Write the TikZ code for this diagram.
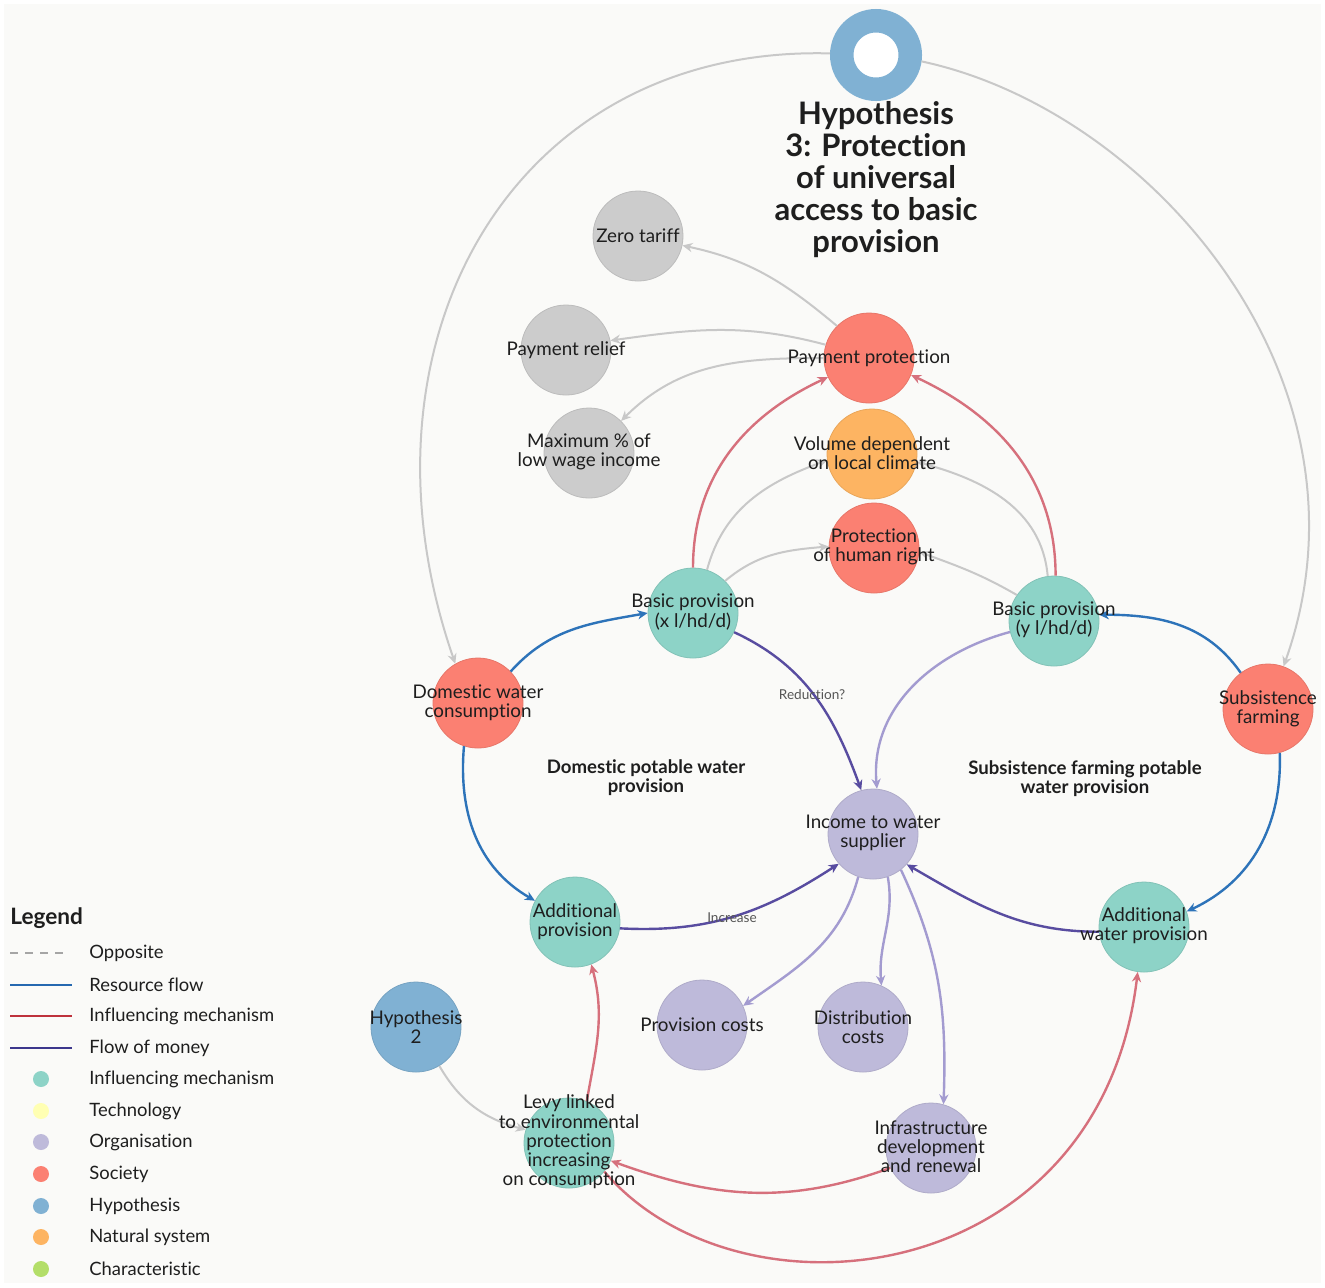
\documentclass[tikz,border=0pt]{standalone}
\usepackage{fontspec}
\setmainfont[Ligatures=NoCommon]{Lato}
\usetikzlibrary{arrows.meta}
\definecolor{bgc}{RGB}{250,250,248}
\definecolor{cteal}{RGB}{141,211,199}
\definecolor{cpurple}{RGB}{190,186,218}
\definecolor{cred}{RGB}{251,128,114}
\definecolor{cblue}{RGB}{128,177,211}
\definecolor{corange}{RGB}{253,180,98}
\definecolor{cyellow}{RGB}{255,255,179}
\definecolor{cgreen}{RGB}{179,222,105}
\definecolor{cgray}{RGB}{204,204,204}
\definecolor{egray}{RGB}{200,200,200}
\definecolor{eblue}{RGB}{45,115,185}
\definecolor{ered}{RGB}{214,112,124}
\definecolor{emoney}{RGB}{88,76,160}
\definecolor{elight}{RGB}{163,155,208}
\definecolor{lgray}{RGB}{165,165,165}
\definecolor{lblue}{RGB}{37,104,176}
\definecolor{lred}{RGB}{190,50,60}
\definecolor{lmoney}{RGB}{60,55,140}
\definecolor{txtc}{RGB}{30,30,30}
\tikzset{
  circ/.style={circle,minimum size=45pt,inner sep=0pt,fill=#1,draw=#1!92!black,line width=0.4pt},
  txt/.style={align=center,inner sep=0pt,text=txtc,font=\fontsize{9.4}{9.6}\selectfont},
  grp/.style={align=center,inner sep=0pt,text=txtc,font=\bfseries\fontsize{9.3}{9.6}\selectfont},
  elab/.style={inner sep=0pt,text={rgb,255:red,85;green,85;blue,85},font=\fontsize{6.8}{7}\selectfont},
  tip/.style={-{Stealth[length=5pt,width=4.6pt]}},
  ge/.style={draw=egray,line width=1pt,tip},
  be/.style={draw=eblue,line width=1.2pt,tip},
  re/.style={draw=ered,line width=1.2pt,tip},
  me/.style={draw=emoney,line width=1.2pt,tip},
  le/.style={draw=elight,line width=1.2pt,tip},
  legt/.style={anchor=west,inner sep=0pt,text=txtc,font=\fontsize{9.2}{10}\selectfont},
  legd/.style={circle,minimum size=8pt,inner sep=0pt,fill=#1}
}
\begin{document}
\begin{tikzpicture}[x=0.5pt,y=0.5pt]
\fill[white] (0,0) rectangle (1325,-1287);
\fill[bgc] (4,-4) rectangle (1321,-1283);
\useasboundingbox (0,0) rectangle (1325,-1287);

% circles
\node[circle,minimum size=34.25pt,inner sep=0pt,draw=cblue,line width=11.75pt,fill=white,outer sep=5.9pt] (h3) at (876,-55) {};
\node[circ=cgray] (zt) at (638,-236) {};
\node[circ=cgray] (pr) at (566,-350) {};
\node[circ=cgray] (mx) at (589,-453) {};
\node[circ=cred] (pp) at (869,-358) {};
\node[circ=corange] (vol) at (872,-454) {};
\node[circ=cred] (prh) at (874,-548) {};
\node[circ=cteal] (bx) at (693,-613) {};
\node[circ=cteal] (by) at (1054,-621) {};
\node[circ=cred] (dom) at (478,-703) {};
\node[circ=cred] (sub) at (1268,-709) {};
\node[circ=cpurple] (inc) at (873,-834) {};
\node[circ=cteal] (ap) at (575,-922) {};
\node[circ=cteal] (aw) at (1144,-927) {};
\node[circ=cpurple] (pc) at (702,-1025) {};
\node[circ=cpurple] (dc) at (863,-1027) {};
\node[circ=cblue] (h2) at (416,-1027) {};
\node[circ=cteal] (lv) at (569,-1143) {};
\node[circ=cpurple] (inf) at (931,-1148) {};

% edges
\draw[ge] (h3.178) .. controls (510,-45) and (345,-345) .. (dom.120);
\draw[ge] (h3.-8) .. controls (1150,-110) and (1385,-380) .. (sub.70);
\draw[ge] (pp.135) to[out=140,in=-12] (zt.-12);
\draw[ge] (pp.163) to[out=165,in=8] (pr.12);
\draw[ge] (pp.180) to[out=180,in=45] (mx.45);
\draw[ge] (bx.72) to[out=75,in=200] (vol.188);
\draw[ge] (by.98) to[out=95,in=-15] (vol.-10);
\draw[ge] (bx.45) to[out=40,in=185] (prh.178);
\draw[ge] (by.145) to[out=150,in=-20] (prh.-5);
\draw[re] (bx.90) to[out=90,in=205] (pp.205);
\draw[re] (by.88) to[out=90,in=-25] (pp.-22);
\draw[be] (dom.44) to[out=48,in=190] (bx.180);
\draw[be] (sub.127) to[out=125,in=0] (by.8);
\draw[be] (dom.252) to[out=265,in=150] (ap.152);
\draw[be] (sub.-75) to[out=-88,in=25] (aw.20);
\draw[me] (bx.-25) to[out=-25,in=110] (inc.105);
\draw[le] (by.194) to[out=195,in=95] (inc.85);
\draw[me] (ap.-8) to[out=-3,in=213] (inc.221);
\draw[me] (aw.186) to[out=180,in=-30] (inc.-42);
\draw[le] (inc.251) to[out=255,in=35] (pc.25);
\draw[le] (inc.-71) to[out=-80,in=95] (dc.66);
\draw[le] (inc.-52) to[out=-65,in=88] (inf.74);
\draw[ge] (h2.-59) to[out=-60,in=165] (lv.163);
\draw[re] (lv.67) to[out=80,in=-75] (ap.-69);
\draw[re] (inf.206) to[out=200,in=-20] (lv.-23);
\draw[re] (lv.-39) .. controls (740,-1330) and (1100,-1290) .. (aw.-98);

% texts
\node[align=center,inner sep=0pt,text=txtc,font=\bfseries\fontsize{15.5}{16}\selectfont] (h3t) at (876,-180) {Hypothesis\\3: Protection\\of universal\\access to basic\\provision};
\node[txt] (ztt) at (638,-236) {Zero tariff};
\node[txt] (prt) at (566,-350) {Payment relief};
\node[txt] (mxt) at (589,-452) {Maximum \% of\\low wage income};
\node[txt] (ppt) at (869,-358) {Payment protection};
\node[txt] (volt) at (872,-453) {Volume dependent\\on local climate};
\node[txt] (prht) at (874,-547) {Protection\\of human right};
\node[txt] (bxt) at (693,-612) {Basic provision\\(x l/hd/d)};
\node[txt] (byt) at (1054,-620) {Basic provision\\(y l/hd/d)};
\node[txt] (domt) at (478,-703) {Domestic water\\consumption};
\node[txt] (subt) at (1268,-709) {Subsistence\\farming};
\node[txt] (inct) at (873,-833) {Income to water\\supplier};
\node[txt] (apt) at (575,-922) {Additional\\provision};
\node[txt] (awt) at (1144,-926) {Additional\\water provision};
\node[txt] (pct) at (702,-1025) {Provision costs};
\node[txt] (dct) at (863,-1027) {Distribution\\costs};
\node[txt] (h2t) at (416,-1027) {Hypothesis\\2};
\node[txt] (lvt) at (569,-1142) {Levy linked\\to environmental\\protection\\increasing\\on consumption};
\node[txt] (inft) at (931,-1147) {Infrastructure\\development\\and renewal};
\node[grp] (g1) at (646,-778) {Domestic potable water\\provision};
\node[grp] (g2) at (1085,-779) {Subsistence farming potable\\water provision};
\node[elab] (l1) at (812,-695) {Reduction?};
\node[elab] (l2) at (732,-918) {Increase};

% legend
\node[anchor=west,inner sep=0pt,text=txtc,font=\bfseries\fontsize{11.3}{12}\selectfont] (leg) at (10,-918) {Legend};
\coordinate (la1) at (10,-953); \coordinate (lb1) at (68,-953);
\coordinate (la2) at (10,-985); \coordinate (lb2) at (72,-985);
\coordinate (la3) at (10,-1016); \coordinate (lb3) at (72,-1016);
\coordinate (la4) at (10,-1048); \coordinate (lb4) at (72,-1048);
\draw[lgray,line width=0.9pt,dash pattern=on 4pt off 3.5pt] (la1) -- (lb1);
\draw[lblue,line width=1pt] (la2) -- (lb2);
\draw[lred,line width=1pt] (la3) -- (lb3);
\draw[lmoney,line width=1pt] (la4) -- (lb4);
\node[legt] (t1) at (89,-953) {Opposite};
\node[legt] (t2) at (89,-985) {Resource flow};
\node[legt] (t3) at (89,-1016) {Influencing mechanism};
\node[legt] (t4) at (89,-1048) {Flow of money};
\node[legd=cteal] (d5) at (41,-1079) {};
\node[legd=cyellow] (d6) at (41,-1111) {};
\node[legd=cpurple] (d7) at (41,-1142) {};
\node[legd=cred] (d8) at (41,-1174) {};
\node[legd=cblue] (d9) at (41,-1206) {};
\node[legd=corange] (d10) at (41,-1237) {};
\node[legd=cgreen] (d11) at (41,-1269) {};
\node[legt] (t5) at (89,-1079) {Influencing mechanism};
\node[legt] (t6) at (89,-1111) {Technology};
\node[legt] (t7) at (89,-1142) {Organisation};
\node[legt] (t8) at (89,-1174) {Society};
\node[legt] (t9) at (89,-1206) {Hypothesis};
\node[legt] (t10) at (89,-1237) {Natural system};
\node[legt] (t11) at (89,-1269) {Characteristic};
\end{tikzpicture}
\end{document}
